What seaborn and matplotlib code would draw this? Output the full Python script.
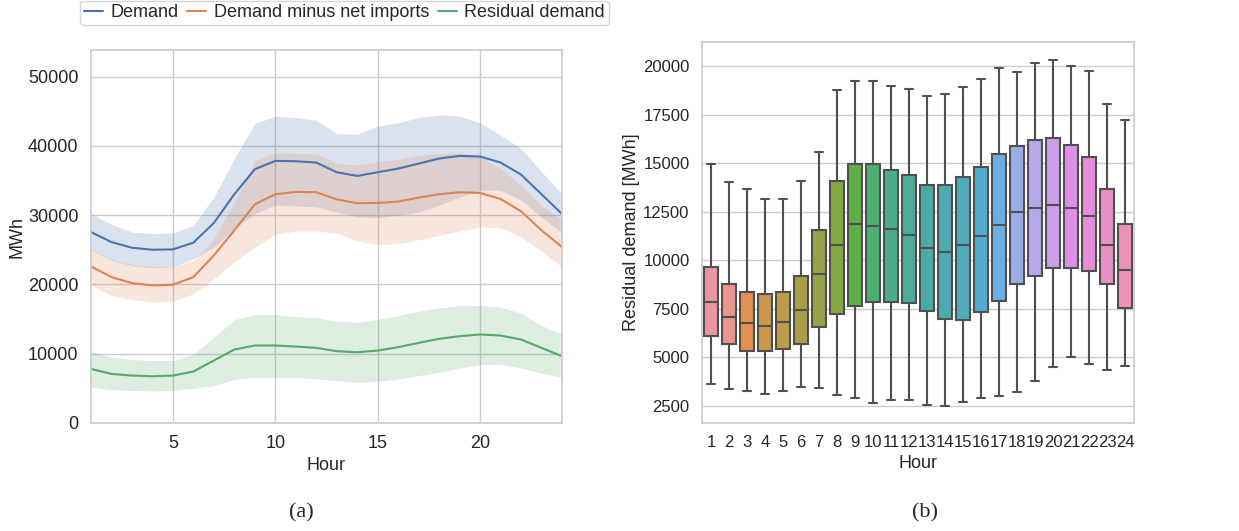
import numpy as np
import pandas as pd
import matplotlib
matplotlib.use('Agg')
import matplotlib.pyplot as plt
import seaborn as sns

sns.set_theme(style='whitegrid')
plt.rcParams['font.family'] = ['Liberation Sans', 'DejaVu Sans']

# ---------------------------------------------------------------------------
# (a) mean profiles with spread bands, MWh
# ---------------------------------------------------------------------------
hours = list(range(1, 25))

demand = [27580, 26130, 25310, 25020, 25070, 26040, 28880, 33030, 36640, 37850,
          37800, 37610, 36210, 35680, 36210, 36740, 37460, 38190, 38570, 38480,
          37610, 35870, 33030, 30180]
demand_hi = [30230, 28690, 27580, 27340, 27430, 28500, 32640, 38190, 43250, 44310,
             44070, 43730, 41800, 41710, 42860, 43350, 44120, 44500, 44310, 43350,
             41560, 39630, 36260, 33120]
demand_lo = [25020, 23480, 22710, 22420, 22520, 23720, 25410, 28060, 30230, 31440,
             31340, 31200, 30470, 29750, 29650, 29990, 30470, 31440, 32640, 33610,
             33610, 32160, 29750, 27430]

net = [22610, 21070, 20200, 19870, 19960, 21070, 24200, 27820, 31580, 33030,
       33370, 33320, 32300, 31730, 31780, 31970, 32550, 33030, 33320, 33220,
       32350, 30570, 27820, 25410]
net_hi = [25170, 23630, 22900, 22610, 22520, 23480, 26620, 31920, 37850, 39010,
          38910, 38910, 37460, 37270, 37700, 38090, 38670, 38910, 39010, 38430,
          36740, 34330, 31440, 29270]
net_lo = [19870, 18420, 17840, 17450, 17600, 18660, 20830, 23240, 25410, 27240,
          27720, 27720, 27430, 26280, 25800, 25890, 26470, 27100, 27720, 28300,
          28210, 26860, 24830, 22520]

resid = [7810, 7090, 6850, 6750, 6850, 7430, 9020, 10610, 11190, 11190,
         11040, 10850, 10370, 10220, 10460, 10950, 11570, 12150, 12540, 12780,
         12630, 12050, 10850, 9640]
resid_hi = [10370, 9500, 9160, 9020, 9020, 9880, 12390, 14900, 15670, 15670,
            15380, 15190, 14660, 14560, 14950, 15530, 16150, 16630, 16920, 16970,
            16730, 15860, 14080, 12780]
resid_lo = [5160, 4820, 4680, 4630, 4680, 5010, 5400, 6270, 6610, 6610,
            6610, 6360, 6120, 5880, 6030, 6360, 6850, 7330, 7910, 8440,
            8440, 7960, 7190, 6610]

series_names = ['Demand', 'Demand minus net imports', 'Residual demand']

# ---------------------------------------------------------------------------
# (b) residual demand box statistics per hour, MWh
# ---------------------------------------------------------------------------
box_low = [3616, 3358, 3289, 3135, 3289, 3479, 3410, 3067, 2912, 2671, 2792, 2792,
           2551, 2483, 2689, 2895, 2998, 3221, 3771, 4492, 5024, 4681, 4337, 4561]
box_q1 = [6123, 5694, 5351, 5316, 5436, 5694, 6570, 7240, 7635, 7841, 7875, 7806,
          7394, 6965, 6931, 7360, 7927, 8768, 9198, 9610, 9627, 9438, 8768, 7566]
box_med = [7841, 7068, 6776, 6639, 6845, 7446, 9301, 10812, 11894, 11774, 11619, 11327,
           10640, 10434, 10778, 11241, 11842, 12512, 12701, 12838, 12701, 12306, 10812, 9507]
box_q3 = [9644, 8785, 8373, 8287, 8390, 9215, 11550, 14092, 14951, 14968, 14676, 14384,
          13869, 13886, 14281, 14796, 15483, 15912, 16221, 16290, 15964, 15329, 13663, 11877]
box_high = [14985, 14024, 13663, 13148, 13165, 14075, 15603, 18763, 19262, 19262, 19004, 18832,
            18454, 18557, 18952, 19330, 19931, 19708, 20155, 20309, 20000, 19777, 18059, 17235]

fig = plt.figure(figsize=(12.39, 5.31), dpi=100)
ax1 = fig.add_axes([0.0734, 0.2034, 0.3802, 0.7024])
ax2 = fig.add_axes([0.5666, 0.2034, 0.3487, 0.7176])

colors = sns.color_palette('deep')[:3]

line_df = pd.DataFrame({
    'Hour': hours * 3,
    'MWh': demand + net + resid,
    'series': [s for s in series_names for _ in hours],
})
sns.lineplot(data=line_df, x='Hour', y='MWh', hue='series', hue_order=series_names,
             palette=colors, linewidth=1.5, ax=ax1)

for lo, hi, c in zip([demand_lo, net_lo, resid_lo], [demand_hi, net_hi, resid_hi], colors):
    ax1.fill_between(hours, lo, hi, color=c, alpha=0.2, linewidth=0)

ax1.set_xlim(1, 24)
ax1.set_ylim(0, 53860)
ax1.set_xticks([5, 10, 15, 20])
ax1.set_yticks(range(0, 50001, 10000))
ax1.tick_params(labelsize=13, pad=3)
ax1.set_xlabel('Hour', fontsize=13, labelpad=3)
ax1.set_ylabel('MWh', fontsize=13, labelpad=2)
handles, labels = ax1.get_legend_handles_labels()
ax1.legend(handles, labels, loc='lower center', bbox_to_anchor=(0.538, 1.067), ncol=3,
           fontsize=13, handlelength=1.06, handletextpad=0.4, columnspacing=0.5,
           borderaxespad=0, borderpad=0.2, frameon=True)

# boxes built from the five summary values so quartiles line up
box_df = pd.DataFrame({
    'Hour': [str(h) for h in hours for _ in range(5)],
    'value': [v for i in range(24) for v in
              (box_low[i], box_q1[i], box_med[i], box_q3[i], box_high[i])],
})
order = [str(h) for h in hours]
sns.boxplot(data=box_df, x='Hour', y='value', hue='Hour', order=order, hue_order=order,
            palette=sns.husl_palette(24, l=.7), legend=False, whis=(0, 100), width=0.8,
            linecolor='#505050', linewidth=1.5, ax=ax2)
ax2.set_ylim(1620, 21250)
ax2.set_yticks(range(2500, 20001, 2500))
ax2.tick_params(labelsize=12, pad=3)
ax2.set_xlabel('Hour', fontsize=13, labelpad=3)
ax2.set_ylabel('Residual demand [MWh]', fontsize=13, labelpad=2)

fig.text(0.243, 0.034, '(a)', family='Liberation Serif', fontsize=16, ha='center', va='center')
fig.text(0.7466, 0.034, '(b)', family='Liberation Serif', fontsize=16, ha='center', va='center')

fig.savefig('out.png', dpi=100)
